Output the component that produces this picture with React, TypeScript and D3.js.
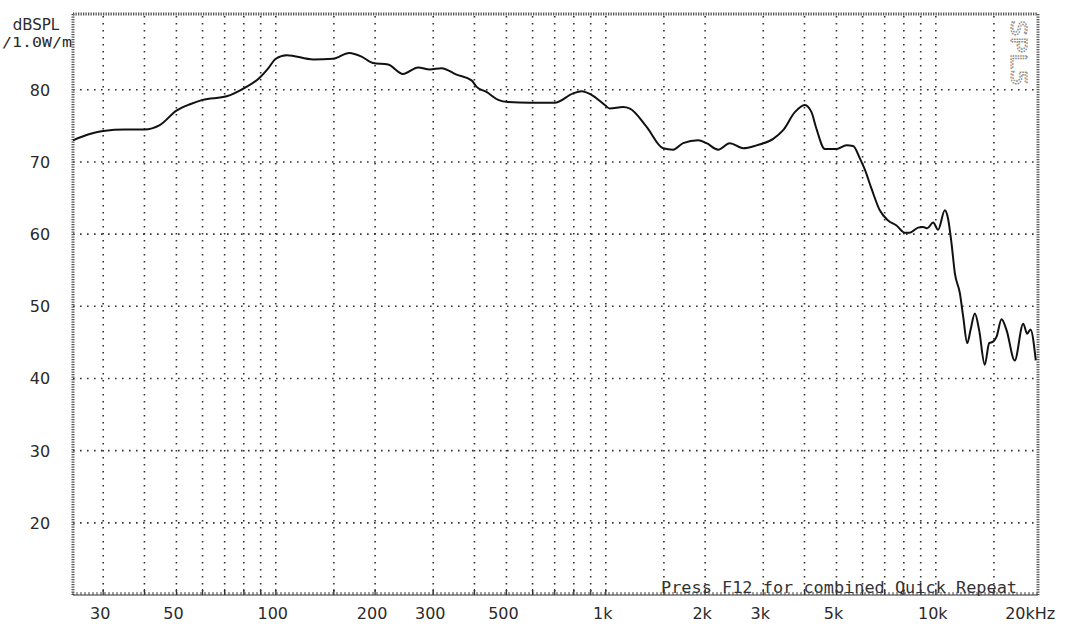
import React, { useEffect, useRef } from 'react';
import * as d3 from 'd3';

// frequency response
const freqs = [
  24.3, 27, 30, 35, 40, 44.5, 50, 55, 60, 71, 80, 89, 95, 100, 108, 130, 149, 167, 182, 197,
  219, 243, 270, 293, 318, 353, 392, 406, 435, 472, 506, 589, 700, 796, 844, 905, 993, 1028,
  1128, 1183, 1328, 1492, 1600, 1715, 1905, 2020, 2190, 2375, 2608, 2863, 3215, 3447, 3740,
  4008, 4200, 4348, 4610, 5002, 5360, 5615, 5888, 6100, 6385, 6765, 7167, 7600, 8050, 8337,
  8837, 9150, 9415, 9815, 10160, 10650, 10895, 11160, 11420, 11830, 12110, 12450, 12740,
  13130, 13530, 14070, 14510, 14920, 15280, 15820, 16380, 17340, 18400, 18920, 19360, 20090,
];
const spl = [
  73.0, 73.8, 74.3, 74.5, 74.5, 75.1, 77.1, 78.0, 78.6, 79.1, 80.2, 81.6, 83.0, 84.3, 84.8,
  84.2, 84.3, 85.1, 84.6, 83.7, 83.5, 82.2, 83.1, 82.8, 83.0, 82.1, 81.3, 80.4, 79.7, 78.6,
  78.3, 78.2, 78.2, 79.5, 79.8, 79.3, 77.9, 77.4, 77.6, 77.4, 74.9, 71.9, 71.7, 72.6, 73.0,
  72.6, 71.7, 72.6, 71.9, 72.3, 73.2, 74.4, 76.9, 77.9, 76.9, 74.6, 71.8, 71.8, 72.3, 72.2,
  70.5, 68.9, 66.3, 63.3, 61.9, 61.2, 60.2, 60.2, 60.9, 61.0, 60.8, 61.6, 60.6, 63.3, 62.1,
  58.7, 54.6, 51.8, 48.5, 44.9, 46.7, 49.0, 46.7, 41.9, 44.9, 45.1, 45.8, 48.2, 46.7, 42.5,
  47.6, 46.2, 46.8, 42.5,
];

const freqGrid = [
  30, 40, 50, 60, 70, 80, 90, 100, 150, 200, 300, 400, 500, 600, 700, 800, 900, 1000, 1500,
  2000, 3000, 4000, 5000, 6000, 7000, 8000, 9000, 10000, 15000,
];
const freqTicks = [30, 50, 100, 200, 300, 500, 1000, 2000, 3000, 5000, 10000, 20000];
const freqLabels = ['30', '50', '100', '200', '300', '500', '1k', '2k', '3k', '5k', '10k', '20kHz'];
const dbTicks = [20, 30, 40, 50, 60, 70, 80];

const W = 1077;
const H = 632;

const ResponseChart: React.FC = () => {
  const svgRef = useRef<SVGSVGElement>(null);

  useEffect(() => {
    if (!svgRef.current) return;
    const svg = d3.select(svgRef.current);
    svg.selectAll('*').remove();

    const left = 73, right = 1038, top = 14, bottom = 595;

    const x = d3.scaleLog().domain([24.3, 20400]).range([left, right]);
    const y = d3.scaleLinear().domain([10, 90.5]).range([bottom, top]);

    const ink = '#2a2a2a';
    const font = '"DejaVu Sans", sans-serif';

    svg.append('rect').attr('width', W).attr('height', H).attr('fill', '#fff');

    // dotted grid
    svg.append('g')
      .selectAll('line')
      .data(freqGrid)
      .enter()
      .append('line')
      .attr('x1', d => x(d)).attr('x2', d => x(d))
      .attr('y1', top + 2).attr('y2', bottom)
      .attr('stroke', '#333')
      .attr('stroke-width', 1.6)
      .attr('stroke-dasharray', '1.6 5.4');

    svg.append('g')
      .selectAll('line')
      .data(dbTicks)
      .enter()
      .append('line')
      .attr('x1', left).attr('x2', right)
      .attr('y1', d => y(d)).attr('y2', d => y(d))
      .attr('stroke', '#333')
      .attr('stroke-width', 1.6)
      .attr('stroke-dasharray', '1.6 5.4');

    // chain-like frame on top / left / right
    const frame = svg.append('g').attr('fill', 'none').attr('stroke', '#555');
    frame.append('line').attr('x1', left).attr('x2', right).attr('y1', top).attr('y2', top)
      .attr('stroke-width', 3).attr('stroke-dasharray', '1.3 1.2');
    frame.append('line').attr('x1', left).attr('x2', left).attr('y1', top).attr('y2', bottom)
      .attr('stroke-width', 3).attr('stroke-dasharray', '1.3 1.2');
    frame.append('line').attr('x1', right).attr('x2', right).attr('y1', top).attr('y2', bottom)
      .attr('stroke-width', 3).attr('stroke-dasharray', '1.3 1.2');
    frame.append('line').attr('x1', left).attr('x2', right).attr('y1', bottom).attr('y2', bottom)
      .attr('stroke-width', 1.2).attr('stroke', '#333');

    // bottom minor ticks
    const minor = d3.range(left, right, 4);
    svg.append('g')
      .selectAll('line')
      .data(minor)
      .enter()
      .append('line')
      .attr('x1', d => d).attr('x2', d => d)
      .attr('y1', bottom).attr('y2', bottom - 3)
      .attr('stroke', '#444')
      .attr('stroke-width', 1);
    svg.append('g')
      .selectAll('line')
      .data(freqGrid)
      .enter()
      .append('line')
      .attr('x1', d => x(d)).attr('x2', d => x(d))
      .attr('y1', bottom).attr('y2', bottom - 6)
      .attr('stroke', '#333')
      .attr('stroke-width', 1.2);

    // response curve
    const line = d3.line<number>()
      .x((d, i) => x(freqs[i]))
      .y(d => y(d))
      .curve(d3.curveMonotoneX);

    svg.append('path')
      .datum(spl)
      .attr('fill', 'none')
      .attr('stroke', '#111')
      .attr('stroke-width', 2)
      .attr('stroke-linejoin', 'round')
      .attr('d', line);

    // axis labels
    svg.append('g')
      .selectAll('text')
      .data(dbTicks)
      .enter()
      .append('text')
      .attr('x', 40)
      .attr('y', d => y(d) + 6)
      .attr('text-anchor', 'middle')
      .attr('font-family', font)
      .attr('font-size', 16)
      .attr('fill', ink)
      .text(d => String(d));

    svg.append('g')
      .selectAll('text')
      .data(freqTicks)
      .enter()
      .append('text')
      .attr('x', (d, i) => (i === freqTicks.length - 1 ? x(d) - 30 : x(d) - 3))
      .attr('y', 619)
      .attr('text-anchor', (d, i) => (i === freqTicks.length - 1 ? 'start' : 'middle'))
      .attr('font-family', font)
      .attr('font-size', 16)
      .attr('fill', ink)
      .text((d, i) => freqLabels[i]);

    svg.append('text')
      .attr('x', 36).attr('y', 30)
      .attr('text-anchor', 'middle')
      .attr('font-family', font)
      .attr('font-size', 15)
      .attr('fill', ink)
      .text('dBSPL');

    svg.append('text')
      .attr('x', 2).attr('y', 47)
      .attr('textLength', 70)
      .attr('lengthAdjust', 'spacingAndGlyphs')
      .attr('font-family', '"DejaVu Sans Mono", monospace')
      .attr('font-size', 14)
      .attr('fill', ink)
      .text('/1.0W/m');

    svg.append('text')
      .attr('x', 661).attr('y', 593)
      .attr('textLength', 356)
      .attr('lengthAdjust', 'spacingAndGlyphs')
      .attr('font-family', '"DejaVu Sans Mono", monospace')
      .attr('font-size', 15)
      .attr('fill', '#333')
      .text('Press F12 for combined Quick Repeat');

    // faint rotated mark in the top right corner
    svg.append('text')
      .attr('transform', 'translate(1011,20) rotate(90)')
      .attr('font-family', '"DejaVu Sans Mono", monospace')
      .attr('font-size', 22)
      .attr('textLength', 66)
      .attr('lengthAdjust', 'spacingAndGlyphs')
      .attr('fill', 'none')
      .attr('stroke', '#8a8a8a')
      .attr('stroke-width', 1.2)
      .attr('stroke-dasharray', '1.5 1')
      .text('SPL5');
  }, []);

  return <svg ref={svgRef} width={W} height={H} style={{ position: 'absolute', left: 0, top: 0 }} />;
};

export default function App() {
  return <ResponseChart />;
}
